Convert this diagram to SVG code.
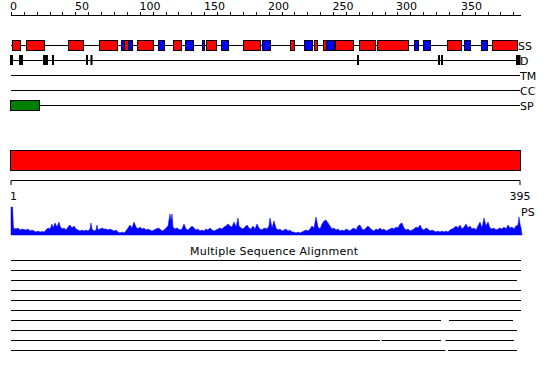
<svg xmlns="http://www.w3.org/2000/svg" width="550" height="380" viewBox="0 0 550 380">
<style>
.ln{stroke:#000;stroke-width:1;fill:none}
.r{fill:#ff0000;stroke:#000;stroke-width:1}
.b{fill:#0000ff;stroke:#000;stroke-width:1}
.d{fill:#000}
.t{font-family:"DejaVu Sans",Verdana,sans-serif;font-size:11px;fill:#000}
</style>
<rect width="550" height="380" fill="#fff"/>
<g id="ruler">
<line class="ln" x1="11" y1="15.5" x2="521" y2="15.5"/>
<path class="ln" d="M11.5 12V15.5M24.5 12V15.5M37.5 12V15.5M50.5 12V15.5M62.5 12V15.5M75.5 12V15.5M88.5 12V15.5M101.5 12V15.5M114.5 12V15.5M127.5 12V15.5M140.5 12V15.5M153.5 12V15.5M166.5 12V15.5M178.5 12V15.5M191.5 12V15.5M204.5 12V15.5M217.5 12V15.5M230.5 12V15.5M243.5 12V15.5M256.5 12V15.5M269.5 12V15.5M282.5 12V15.5M294.5 12V15.5M307.5 12V15.5M320.5 12V15.5M333.5 12V15.5M346.5 12V15.5M359.5 12V15.5M372.5 12V15.5M385.5 12V15.5M397.5 12V15.5M410.5 12V15.5M423.5 12V15.5M436.5 12V15.5M449.5 12V15.5M462.5 12V15.5M475.5 12V15.5M488.5 12V15.5M500.5 12V15.5M513.5 12V15.5"/>
<text class="t" x="10" y="10">0</text>
<text class="t" x="75" y="10">50</text>
<text class="t" x="139.5" y="10">100</text>
<text class="t" x="204" y="10">150</text>
<text class="t" x="268" y="10">200</text>
<text class="t" x="332.5" y="10">250</text>
<text class="t" x="396" y="10">300</text>
<text class="t" x="461" y="10">350</text>
</g>
<g id="ss">
<line class="ln" x1="11" y1="45.5" x2="518" y2="45.5"/>
<rect class="r" x="12.5" y="40.5" width="8" height="10"/>
<rect class="r" x="26.5" y="40.5" width="18" height="10"/>
<rect class="r" x="68.5" y="40.5" width="15" height="10"/>
<rect class="r" x="99.5" y="40.5" width="18" height="10"/>
<rect class="b" x="121.5" y="40.5" width="3" height="10"/>
<rect class="r" x="124.5" y="40.5" width="4" height="10"/>
<rect class="b" x="128.5" y="40.5" width="4" height="10"/>
<rect class="r" x="137.5" y="40.5" width="16" height="10"/>
<rect class="b" x="158.5" y="40.5" width="6" height="10"/>
<rect class="r" x="173.5" y="40.5" width="8" height="10"/>
<rect class="b" x="185.5" y="40.5" width="8" height="10"/>
<rect class="b" x="202.5" y="40.5" width="2" height="10"/>
<rect class="r" x="206.5" y="40.5" width="10" height="10"/>
<rect class="b" x="221.5" y="40.5" width="7" height="10"/>
<rect class="r" x="243.5" y="40.5" width="17" height="10"/>
<rect class="b" x="262.5" y="40.5" width="8" height="10"/>
<rect class="r" x="290.5" y="40.5" width="4" height="10"/>
<rect class="b" x="304.5" y="40.5" width="8" height="10"/>
<rect class="r" x="314.5" y="40.5" width="3" height="10"/>
<rect class="r" x="323.5" y="40.5" width="3" height="10"/>
<rect class="b" x="326.5" y="40.5" width="8" height="10"/>
<rect class="r" x="335.5" y="40.5" width="18" height="10"/>
<rect class="r" x="359.5" y="40.5" width="16" height="10"/>
<rect class="r" x="377.5" y="40.5" width="31" height="10"/>
<rect class="b" x="414.5" y="40.5" width="4" height="10"/>
<rect class="b" x="423.5" y="40.5" width="7" height="10"/>
<rect class="r" x="447.5" y="40.5" width="14" height="10"/>
<rect class="b" x="464.5" y="40.5" width="6" height="10"/>
<rect class="b" x="481.5" y="40.5" width="6" height="10"/>
<rect class="r" x="492.5" y="40.5" width="25" height="10"/>
<text class="t" x="518" y="49.5">SS</text>
</g>
<g id="d">
<line class="ln" x1="11" y1="60.5" x2="518" y2="60.5"/>
<rect class="d" x="10" y="55" width="3" height="10"/>
<rect class="d" x="19" y="55" width="4" height="10"/>
<rect class="d" x="43" y="55" width="5" height="10"/>
<rect class="d" x="52" y="55" width="2" height="10"/>
<rect class="d" x="86" y="55" width="2" height="10"/>
<rect class="d" x="90.5" y="55" width="2" height="10"/>
<rect class="d" x="357" y="55" width="2" height="10"/>
<rect class="d" x="438" y="55" width="2" height="10"/>
<rect class="d" x="441" y="55" width="2" height="10"/>
<rect class="d" x="516" y="55" width="4.5" height="10"/>
<text class="t" x="520" y="64.5">D</text>
</g>
<g id="tm">
<line class="ln" x1="11" y1="75.5" x2="520" y2="75.5"/>
<text class="t" x="520" y="79.5">TM</text>
</g>
<g id="cc">
<line class="ln" x1="11" y1="90.5" x2="520" y2="90.5"/>
<text class="t" x="520" y="94.5">CC</text>
</g>
<g id="sp">
<line class="ln" x1="11" y1="105.5" x2="520" y2="105.5"/>
<rect x="10.5" y="100.5" width="29" height="10" fill="#008000" stroke="#000"/>
<text class="t" x="520" y="109.5">SP</text>
</g>
<g id="domain">
<rect class="r" x="10.5" y="150.5" width="510" height="20"/>
<path class="ln" d="M11 185V180.5H520V185"/>
<text class="t" x="10" y="200">1</text>
<text class="t" x="520" y="200" text-anchor="middle">395</text>
</g>
<g id="ps">
<path fill="#0000ff" stroke="#0000ff" stroke-width="0.5" d="M11,235 L11,207 L12.5,207 L13.5,228 L16,229 L18,228 L20,230 L22,229 L24,229.5 L26,230 L28,229 L30,231 L32,230 L34,231 L36,232 L38,231 L40,232 L42,231.5 L44,232 L46,230 L48,228 L50,229 L52,224 L53,228 L55,223 L57,227 L59,222 L60,226 L62,229 L64,228 L66,230 L68,227 L70,225 L72,228 L74,226 L76,229 L78,230 L80,231 L82,230 L84,231 L86,230 L88,231 L90,229 L91,223 L92,229 L94,231 L96,230 L97,225 L98,230 L100,229 L102,228 L104,229 L106,229 L108,230 L110,229 L112,230 L114,231 L116,230 L118,232 L120,233 L122,232 L124,233 L126,231 L128,228 L130,225 L132,228 L134,222 L136,227 L138,229 L140,227 L142,229 L144,228 L146,230 L148,229 L150,230 L152,231 L154,230 L156,229 L158,228 L160,229 L162,231 L164,230 L166,228 L168,226 L170,214 L171,221 L172,214 L173,227 L175,229 L177,228 L180,230 L182,229 L184,224 L186,229 L188,230 L190,228 L192,226 L194,228 L196,230 L198,229 L200,231 L202,230 L204,231 L206,229 L208,230 L210,228 L212,230 L214,231 L216,230 L218,229 L220,228 L222,229 L224,227 L226,226 L228,224 L230,226 L232,227 L234,222 L236,227 L238,218 L239,226 L241,228 L243,229 L245,227 L247,225 L249,228 L251,229 L253,226 L255,229 L257,224 L259,228 L261,230 L263,229 L265,228 L267,229 L269,226 L270,218 L272,228 L274,221 L276,228 L278,230 L280,229 L282,231 L284,230 L286,229 L288,231 L290,230 L292,232 L294,232 L296,233 L298,232 L300,233 L302,232 L304,231 L306,230 L308,231 L310,229 L312,226 L314,228 L316,217 L318,227 L320,229 L322,224 L324,221 L326,220 L328,223 L330,226 L332,229 L334,228 L336,230 L338,229 L340,231 L342,230 L344,231 L346,229 L348,230 L350,231 L352,229 L354,228 L356,230 L358,226 L360,225 L362,229 L364,230 L366,228 L368,226 L370,228 L372,230 L374,231 L376,229 L378,230 L380,228 L382,230 L384,229 L386,231 L388,230 L390,229 L392,228 L394,229 L396,227 L398,228 L400,224 L402,223 L404,228 L406,230 L408,229 L410,231 L412,230 L414,229 L416,227 L418,228 L420,225 L422,229 L424,230 L426,228 L428,229 L430,231 L432,230 L434,231 L436,232 L438,231 L440,232 L442,231 L444,232 L446,231 L448,232 L450,230 L452,229 L454,228 L456,226 L458,228 L460,225 L462,229 L464,227 L466,224 L468,228 L470,226 L472,229 L474,228 L476,230 L478,226 L480,222 L482,228 L484,218 L486,226 L488,222 L490,228 L492,229 L494,228 L496,230 L498,229 L500,228 L502,229 L504,227 L506,229 L508,225 L510,228 L512,227 L514,229 L516,226 L518,225 L519,217 L520,224 L521,228 L522,235 Z"/>
<text class="t" x="521" y="216">PS</text>
</g>
<g id="msa">
<text class="t" x="190" y="255" textLength="168" lengthAdjust="spacing">Multiple Sequence Alignment</text>
<path class="ln" d="M11 260.5H521M11 270.5H521M11 280.5H517M11 290.5H521M11 300.5H521M11 310.5H521M11 320.5H441M449 320.5H513M11 330.5H517M11 340.5H380M381.5 340.5H441M445.5 340.5H514M11 350.5H445.5M448 350.5H517"/>
</g>
</svg>
